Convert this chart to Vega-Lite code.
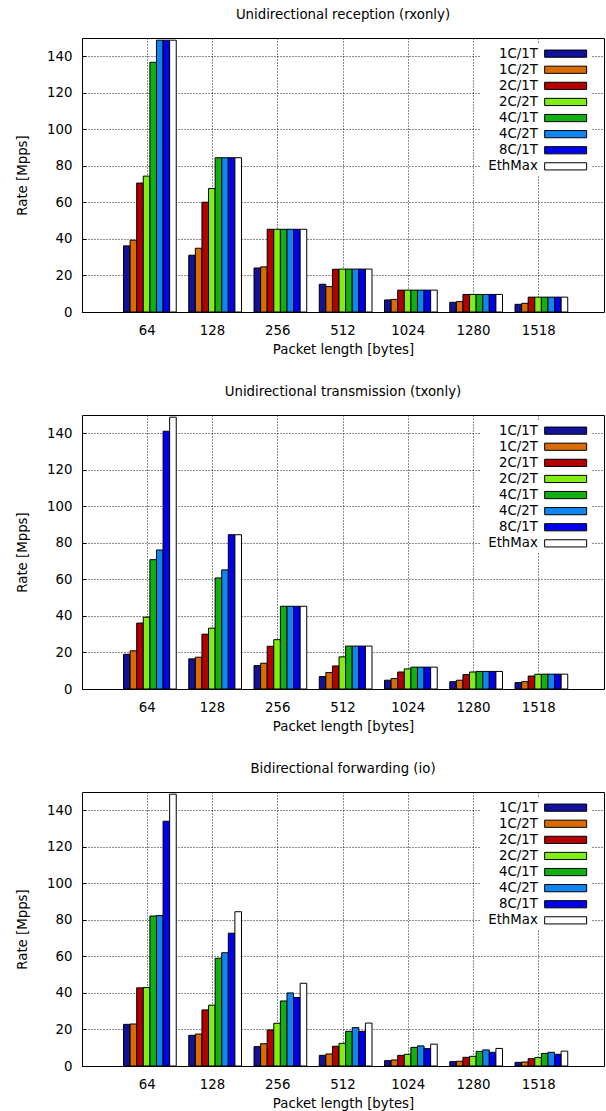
{
  "$schema": "https://vega.github.io/schema/vega-lite/v6.json",
  "padding": {"left": 15, "top": 7, "right": 2, "bottom": 0},
  "spacing": 27,
  "config": {
    "font": "DejaVu Sans",
    "view": {"stroke": "#000", "strokeWidth": 1},
    "axis": {"labelFont": "DejaVu Sans", "titleFont": "DejaVu Sans", "labelFontSize": 13.3, "titleFontSize": 13.3, "titleFontWeight": "normal", "labelColor": "#000", "titleColor": "#000", "domain": false, "grid": true, "gridColor": "#000", "gridDash": [1, 2], "gridOpacity": 0.9, "gridWidth": 1, "ticks": true, "tickSize": -4, "tickColor": "#000"},
    "title": {"fontSize": 13.3, "fontWeight": "normal", "font": "DejaVu Sans", "color": "#000", "offset": 17},
    "legend": {"labelFont": "DejaVu Sans", "labelFontSize": 13.3, "labelColor": "#000", "orient": "none", "legendX": 399, "legendY": 6, "padding": 3, "fillColor": "white", "symbolType": "M-3.5,-0.6L3.5,-0.6L3.5,0.6L-3.5,0.6Z", "symbolSize": 144, "symbolStrokeColor": "#000", "symbolStrokeWidth": 1, "symbolOpacity": 1, "labelAlign": "right", "symbolOffset": 75, "labelOffset": -34.5, "rowPadding": 2.1}
  },
  "resolve": {"scale": {"color": "independent"}, "legend": {"color": "independent"}},
  "data": {"values": [
    {"m":"rx","len":"64","s":"1C/1T","v":36.2},{"m":"rx","len":"64","s":"1C/2T","v":39.3},{"m":"rx","len":"64","s":"2C/1T","v":70.6},{"m":"rx","len":"64","s":"2C/2T","v":74.4},{"m":"rx","len":"64","s":"4C/1T","v":136.7},{"m":"rx","len":"64","s":"4C/2T","v":148.8},{"m":"rx","len":"64","s":"8C/1T","v":148.8},{"m":"rx","len":"64","s":"EthMax","v":148.81},
    {"m":"rx","len":"128","s":"1C/1T","v":31.1},{"m":"rx","len":"128","s":"1C/2T","v":34.9},{"m":"rx","len":"128","s":"2C/1T","v":60.1},{"m":"rx","len":"128","s":"2C/2T","v":67.6},{"m":"rx","len":"128","s":"4C/1T","v":84.46},{"m":"rx","len":"128","s":"4C/2T","v":84.46},{"m":"rx","len":"128","s":"8C/1T","v":84.46},{"m":"rx","len":"128","s":"EthMax","v":84.46},
    {"m":"rx","len":"256","s":"1C/1T","v":24.1},{"m":"rx","len":"256","s":"1C/2T","v":24.7},{"m":"rx","len":"256","s":"2C/1T","v":45.29},{"m":"rx","len":"256","s":"2C/2T","v":45.29},{"m":"rx","len":"256","s":"4C/1T","v":45.29},{"m":"rx","len":"256","s":"4C/2T","v":45.29},{"m":"rx","len":"256","s":"8C/1T","v":45.29},{"m":"rx","len":"256","s":"EthMax","v":45.29},
    {"m":"rx","len":"512","s":"1C/1T","v":15.2},{"m":"rx","len":"512","s":"1C/2T","v":13.9},{"m":"rx","len":"512","s":"2C/1T","v":23.4},{"m":"rx","len":"512","s":"2C/2T","v":23.5},{"m":"rx","len":"512","s":"4C/1T","v":23.5},{"m":"rx","len":"512","s":"4C/2T","v":23.5},{"m":"rx","len":"512","s":"8C/1T","v":23.5},{"m":"rx","len":"512","s":"EthMax","v":23.5},
    {"m":"rx","len":"1024","s":"1C/1T","v":6.6},{"m":"rx","len":"1024","s":"1C/2T","v":6.9},{"m":"rx","len":"1024","s":"2C/1T","v":11.97},{"m":"rx","len":"1024","s":"2C/2T","v":11.97},{"m":"rx","len":"1024","s":"4C/1T","v":11.97},{"m":"rx","len":"1024","s":"4C/2T","v":11.97},{"m":"rx","len":"1024","s":"8C/1T","v":11.97},{"m":"rx","len":"1024","s":"EthMax","v":11.97},
    {"m":"rx","len":"1280","s":"1C/1T","v":5.3},{"m":"rx","len":"1280","s":"1C/2T","v":5.7},{"m":"rx","len":"1280","s":"2C/1T","v":9.62},{"m":"rx","len":"1280","s":"2C/2T","v":9.62},{"m":"rx","len":"1280","s":"4C/1T","v":9.62},{"m":"rx","len":"1280","s":"4C/2T","v":9.62},{"m":"rx","len":"1280","s":"8C/1T","v":9.62},{"m":"rx","len":"1280","s":"EthMax","v":9.62},
    {"m":"rx","len":"1518","s":"1C/1T","v":4.2},{"m":"rx","len":"1518","s":"1C/2T","v":4.75},{"m":"rx","len":"1518","s":"2C/1T","v":8.13},{"m":"rx","len":"1518","s":"2C/2T","v":8.13},{"m":"rx","len":"1518","s":"4C/1T","v":8.13},{"m":"rx","len":"1518","s":"4C/2T","v":8.13},{"m":"rx","len":"1518","s":"8C/1T","v":8.13},{"m":"rx","len":"1518","s":"EthMax","v":8.13},

    {"m":"tx","len":"64","s":"1C/1T","v":19.0},{"m":"tx","len":"64","s":"1C/2T","v":20.9},{"m":"tx","len":"64","s":"2C/1T","v":36.1},{"m":"tx","len":"64","s":"2C/2T","v":39.3},{"m":"tx","len":"64","s":"4C/1T","v":70.8},{"m":"tx","len":"64","s":"4C/2T","v":76.1},{"m":"tx","len":"64","s":"8C/1T","v":141.1},{"m":"tx","len":"64","s":"EthMax","v":148.81},
    {"m":"tx","len":"128","s":"1C/1T","v":16.5},{"m":"tx","len":"128","s":"1C/2T","v":17.4},{"m":"tx","len":"128","s":"2C/1T","v":30.0},{"m":"tx","len":"128","s":"2C/2T","v":33.3},{"m":"tx","len":"128","s":"4C/1T","v":60.8},{"m":"tx","len":"128","s":"4C/2T","v":65.2},{"m":"tx","len":"128","s":"8C/1T","v":84.46},{"m":"tx","len":"128","s":"EthMax","v":84.46},
    {"m":"tx","len":"256","s":"1C/1T","v":12.8},{"m":"tx","len":"256","s":"1C/2T","v":14.1},{"m":"tx","len":"256","s":"2C/1T","v":23.4},{"m":"tx","len":"256","s":"2C/2T","v":27.0},{"m":"tx","len":"256","s":"4C/1T","v":45.29},{"m":"tx","len":"256","s":"4C/2T","v":45.29},{"m":"tx","len":"256","s":"8C/1T","v":45.29},{"m":"tx","len":"256","s":"EthMax","v":45.29},
    {"m":"tx","len":"512","s":"1C/1T","v":6.8},{"m":"tx","len":"512","s":"1C/2T","v":9.0},{"m":"tx","len":"512","s":"2C/1T","v":12.6},{"m":"tx","len":"512","s":"2C/2T","v":17.6},{"m":"tx","len":"512","s":"4C/1T","v":23.5},{"m":"tx","len":"512","s":"4C/2T","v":23.5},{"m":"tx","len":"512","s":"8C/1T","v":23.5},{"m":"tx","len":"512","s":"EthMax","v":23.5},
    {"m":"tx","len":"1024","s":"1C/1T","v":4.8},{"m":"tx","len":"1024","s":"1C/2T","v":5.7},{"m":"tx","len":"1024","s":"2C/1T","v":9.3},{"m":"tx","len":"1024","s":"2C/2T","v":11.0},{"m":"tx","len":"1024","s":"4C/1T","v":11.97},{"m":"tx","len":"1024","s":"4C/2T","v":11.97},{"m":"tx","len":"1024","s":"8C/1T","v":11.97},{"m":"tx","len":"1024","s":"EthMax","v":11.97},
    {"m":"tx","len":"1280","s":"1C/1T","v":4.0},{"m":"tx","len":"1280","s":"1C/2T","v":4.8},{"m":"tx","len":"1280","s":"2C/1T","v":7.9},{"m":"tx","len":"1280","s":"2C/2T","v":9.3},{"m":"tx","len":"1280","s":"4C/1T","v":9.62},{"m":"tx","len":"1280","s":"4C/2T","v":9.62},{"m":"tx","len":"1280","s":"8C/1T","v":9.62},{"m":"tx","len":"1280","s":"EthMax","v":9.62},
    {"m":"tx","len":"1518","s":"1C/1T","v":3.5},{"m":"tx","len":"1518","s":"1C/2T","v":4.0},{"m":"tx","len":"1518","s":"2C/1T","v":7.1},{"m":"tx","len":"1518","s":"2C/2T","v":8.05},{"m":"tx","len":"1518","s":"4C/1T","v":8.13},{"m":"tx","len":"1518","s":"4C/2T","v":8.13},{"m":"tx","len":"1518","s":"8C/1T","v":8.13},{"m":"tx","len":"1518","s":"EthMax","v":8.13},

    {"m":"io","len":"64","s":"1C/1T","v":22.8},{"m":"io","len":"64","s":"1C/2T","v":23.0},{"m":"io","len":"64","s":"2C/1T","v":42.8},{"m":"io","len":"64","s":"2C/2T","v":43.0},{"m":"io","len":"64","s":"4C/1T","v":82.1},{"m":"io","len":"64","s":"4C/2T","v":82.4},{"m":"io","len":"64","s":"8C/1T","v":134.0},{"m":"io","len":"64","s":"EthMax","v":148.81},
    {"m":"io","len":"128","s":"1C/1T","v":16.8},{"m":"io","len":"128","s":"1C/2T","v":17.5},{"m":"io","len":"128","s":"2C/1T","v":30.7},{"m":"io","len":"128","s":"2C/2T","v":33.3},{"m":"io","len":"128","s":"4C/1T","v":59.0},{"m":"io","len":"128","s":"4C/2T","v":62.0},{"m":"io","len":"128","s":"8C/1T","v":72.7},{"m":"io","len":"128","s":"EthMax","v":84.46},
    {"m":"io","len":"256","s":"1C/1T","v":10.6},{"m":"io","len":"256","s":"1C/2T","v":12.2},{"m":"io","len":"256","s":"2C/1T","v":19.7},{"m":"io","len":"256","s":"2C/2T","v":23.4},{"m":"io","len":"256","s":"4C/1T","v":35.6},{"m":"io","len":"256","s":"4C/2T","v":40.0},{"m":"io","len":"256","s":"8C/1T","v":37.5},{"m":"io","len":"256","s":"EthMax","v":45.29},
    {"m":"io","len":"512","s":"1C/1T","v":5.85},{"m":"io","len":"512","s":"1C/2T","v":6.6},{"m":"io","len":"512","s":"2C/1T","v":10.8},{"m":"io","len":"512","s":"2C/2T","v":12.4},{"m":"io","len":"512","s":"4C/1T","v":19.0},{"m":"io","len":"512","s":"4C/2T","v":21.0},{"m":"io","len":"512","s":"8C/1T","v":19.0},{"m":"io","len":"512","s":"EthMax","v":23.5},
    {"m":"io","len":"1024","s":"1C/1T","v":2.9},{"m":"io","len":"1024","s":"1C/2T","v":3.3},{"m":"io","len":"1024","s":"2C/1T","v":5.85},{"m":"io","len":"1024","s":"2C/2T","v":6.4},{"m":"io","len":"1024","s":"4C/1T","v":10.2},{"m":"io","len":"1024","s":"4C/2T","v":11.0},{"m":"io","len":"1024","s":"8C/1T","v":9.5},{"m":"io","len":"1024","s":"EthMax","v":11.97},
    {"m":"io","len":"1280","s":"1C/1T","v":2.4},{"m":"io","len":"1280","s":"1C/2T","v":2.6},{"m":"io","len":"1280","s":"2C/1T","v":4.75},{"m":"io","len":"1280","s":"2C/2T","v":5.3},{"m":"io","len":"1280","s":"4C/1T","v":8.0},{"m":"io","len":"1280","s":"4C/2T","v":8.8},{"m":"io","len":"1280","s":"8C/1T","v":7.5},{"m":"io","len":"1280","s":"EthMax","v":9.62},
    {"m":"io","len":"1518","s":"1C/1T","v":2.0},{"m":"io","len":"1518","s":"1C/2T","v":2.2},{"m":"io","len":"1518","s":"2C/1T","v":4.0},{"m":"io","len":"1518","s":"2C/2T","v":4.6},{"m":"io","len":"1518","s":"4C/1T","v":6.9},{"m":"io","len":"1518","s":"4C/2T","v":7.5},{"m":"io","len":"1518","s":"8C/1T","v":6.4},{"m":"io","len":"1518","s":"EthMax","v":8.13}
  ]},
  "vconcat": [
    {
      "title": "Unidirectional reception (rxonly)",
      "width": 522, "height": 274,
      "transform": [{"filter": "datum.m === 'rx'"}],
      "mark": {"type": "bar", "stroke": "#000", "strokeWidth": 1},
      "encoding": {
        "x": {"field": "len", "type": "nominal", "scale": {"domain": ["64","128","256","512","1024","1280","1518"], "paddingInner": 0, "paddingOuter": 0.5}, "axis": {"title": "Packet length [bytes]", "labelAngle": 0, "bandPosition": 0.5, "labelPadding": 15, "titlePadding": 6}},
        "xOffset": {"field": "s", "type": "nominal", "scale": {"domain": ["1C/1T","1C/2T","2C/1T","2C/2T","4C/1T","4C/2T","8C/1T","EthMax"], "paddingInner": 0, "paddingOuter": 0.95, "align": 0.71}},
        "y": {"field": "v", "type": "quantitative", "scale": {"domain": [0, 150], "nice": false}, "axis": {"title": "Rate [Mpps]", "values": [0,20,40,60,80,100,120,140], "labelPadding": 14, "titlePadding": 17}},
        "color": {"field": "s", "type": "nominal", "scale": {"domain": ["1C/1T","1C/2T","2C/1T","2C/2T","4C/1T","4C/2T","8C/1T","EthMax"], "range": ["#111199","#d96b00","#b30000","#80ee10","#11b011","#0e86f2","#0000ee","#ffffff"]}, "legend": {"title": null}}
      }
    },
    {
      "title": "Unidirectional transmission (txonly)",
      "width": 522, "height": 274,
      "transform": [{"filter": "datum.m === 'tx'"}],
      "mark": {"type": "bar", "stroke": "#000", "strokeWidth": 1},
      "encoding": {
        "x": {"field": "len", "type": "nominal", "scale": {"domain": ["64","128","256","512","1024","1280","1518"], "paddingInner": 0, "paddingOuter": 0.5}, "axis": {"title": "Packet length [bytes]", "labelAngle": 0, "bandPosition": 0.5, "labelPadding": 15, "titlePadding": 6}},
        "xOffset": {"field": "s", "type": "nominal", "scale": {"domain": ["1C/1T","1C/2T","2C/1T","2C/2T","4C/1T","4C/2T","8C/1T","EthMax"], "paddingInner": 0, "paddingOuter": 0.95, "align": 0.71}},
        "y": {"field": "v", "type": "quantitative", "scale": {"domain": [0, 150], "nice": false}, "axis": {"title": "Rate [Mpps]", "values": [0,20,40,60,80,100,120,140], "labelPadding": 14, "titlePadding": 17}},
        "color": {"field": "s", "type": "nominal", "scale": {"domain": ["1C/1T","1C/2T","2C/1T","2C/2T","4C/1T","4C/2T","8C/1T","EthMax"], "range": ["#111199","#d96b00","#b30000","#80ee10","#11b011","#0e86f2","#0000ee","#ffffff"]}, "legend": {"title": null}}
      }
    },
    {
      "title": "Bidirectional forwarding (io)",
      "width": 522, "height": 274,
      "transform": [{"filter": "datum.m === 'io'"}],
      "mark": {"type": "bar", "stroke": "#000", "strokeWidth": 1},
      "encoding": {
        "x": {"field": "len", "type": "nominal", "scale": {"domain": ["64","128","256","512","1024","1280","1518"], "paddingInner": 0, "paddingOuter": 0.5}, "axis": {"title": "Packet length [bytes]", "labelAngle": 0, "bandPosition": 0.5, "labelPadding": 15, "titlePadding": 6}},
        "xOffset": {"field": "s", "type": "nominal", "scale": {"domain": ["1C/1T","1C/2T","2C/1T","2C/2T","4C/1T","4C/2T","8C/1T","EthMax"], "paddingInner": 0, "paddingOuter": 0.95, "align": 0.71}},
        "y": {"field": "v", "type": "quantitative", "scale": {"domain": [0, 150], "nice": false}, "axis": {"title": "Rate [Mpps]", "values": [0,20,40,60,80,100,120,140], "labelPadding": 14, "titlePadding": 17}},
        "color": {"field": "s", "type": "nominal", "scale": {"domain": ["1C/1T","1C/2T","2C/1T","2C/2T","4C/1T","4C/2T","8C/1T","EthMax"], "range": ["#111199","#d96b00","#b30000","#80ee10","#11b011","#0e86f2","#0000ee","#ffffff"]}, "legend": {"title": null}}
      }
    }
  ]
}
